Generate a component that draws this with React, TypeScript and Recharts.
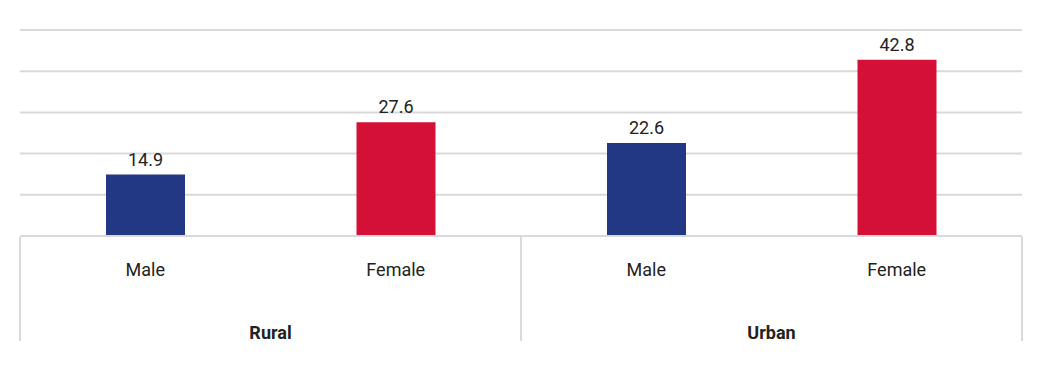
import { BarChart, Bar, XAxis, YAxis, CartesianGrid, Cell, LabelList } from 'recharts'

const sexes = ['Male', 'Female', 'Male', 'Female']
const areas = ['Rural', 'Rural', 'Urban', 'Urban']
const values = [14.9, 27.6, 22.6, 42.8]
const yTicks = [0, 10, 20, 30, 40, 50]

const COLORS: Record<string, string> = {
  Male: '#233884',
  Female: '#D41036',
}

const data = sexes.map((s, i) => ({ key: `${areas[i]}-${s}`, sex: s, area: areas[i], value: values[i] }))

const W = 1038
const H = 371
const M = { top: 30, right: 16, left: 20, bottom: 0 }
const BAND = (W - M.left - M.right) / data.length
const GRID = '#D9D9D9'
const FONT = 'Roboto, "Noto Sans", sans-serif'

function SexTick({ x, y, payload }: any) {
  return (
    <text x={x} y={y + 32} textAnchor="middle" fontSize={18} fill="#222" fontFamily={FONT}>
      {data[payload.index].sex}
    </text>
  )
}

function AreaTick({ x, y, payload }: any) {
  const i = payload.index
  const row = data[i]
  const first = i === 0 || data[i - 1].area !== row.area
  const last = i === data.length - 1
  const top = y - 72
  const bottom = y + 32
  return (
    <g>
      {first && (
        <>
          <line x1={x - BAND / 2} x2={x - BAND / 2} y1={top} y2={bottom} stroke={GRID} strokeWidth={2} />
          <text x={x + BAND / 2} y={y + 30} textAnchor="middle" fontSize={18} fontWeight={700} fill="#222" fontFamily={FONT}>
            {row.area}
          </text>
        </>
      )}
      {last && <line x1={x + BAND / 2} x2={x + BAND / 2} y1={top} y2={bottom} stroke={GRID} strokeWidth={2} />}
    </g>
  )
}

export default function App() {
  return (
    <div style={{ position: 'absolute', left: 0, top: 0, width: W, height: H, background: '#fff' }}>
      <BarChart width={W} height={H} data={data} margin={M}>
        <CartesianGrid vertical={false} stroke={GRID} strokeWidth={2} />
        <YAxis hide domain={[0, 50]} ticks={yTicks} />
        <XAxis
          dataKey="key"
          height={65}
          tickLine={false}
          axisLine={{ stroke: GRID, strokeWidth: 2 }}
          interval={0}
          tick={<SexTick />}
        />
        <XAxis
          xAxisId="area"
          dataKey="key"
          height={70}
          tickLine={false}
          axisLine={false}
          interval={0}
          tick={<AreaTick />}
        />
        <Bar dataKey="value" barSize={79} isAnimationActive={false}>
          {data.map((d) => (
            <Cell key={d.key} fill={COLORS[d.sex]} />
          ))}
          <LabelList dataKey="value" position="top" offset={9} fontSize={18} fill="#222" fontFamily={FONT} />
        </Bar>
      </BarChart>
    </div>
  )
}
